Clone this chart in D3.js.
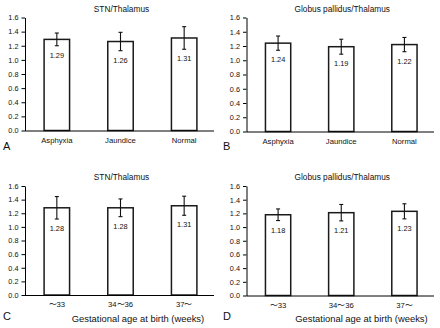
<!DOCTYPE html>
<html>
<head>
<meta charset="utf-8">
<script src="https://cdn.jsdelivr.net/npm/d3@7"></script>
<style>
  body { margin: 0; background: #fff; }
  svg { display: block; font-family: "Liberation Sans", Arial, sans-serif; }
  .axis path, .axis line { stroke: #000; }
  .axis text { fill: #111; font-size: 7.3px; }
  .xaxis text { font-size: 7.7px; }
</style>
</head>
<body>
<svg id="chart" width="440" height="328"></svg>
<script>
const groupCats = ["Asphyxia", "Jaundice", "Normal"];
const ageCats = ["\u301c33", "34\u301c36", "37\u301c"];
const yTicks = [0, 0.2, 0.4, 0.6, 0.8, 1.0, 1.2, 1.4, 1.6];

const stnGroup = [1.29, 1.26, 1.31];
const stnGroupSd = [0.09, 0.13, 0.16];
const gpGroup = [1.24, 1.19, 1.22];
const gpGroupSd = [0.10, 0.105, 0.10];
const stnAge = [1.28, 1.28, 1.31];
const stnAgeSd = [0.165, 0.13, 0.14];
const gpAge = [1.18, 1.21, 1.23];
const gpAgeSd = [0.085, 0.12, 0.11];

const panels = [
  {letter: "A", title: "STN/Thalamus", cats: groupCats, vals: stnGroup, sd: stnGroupSd,
   ox: 0, oy: 0, left: 25, bottom: 130.5, top: 17.5},
  {letter: "B", title: "Globus pallidus/Thalamus", cats: groupCats, vals: gpGroup, sd: gpGroupSd,
   ox: 220, oy: 0, left: 26.5, bottom: 131.5, top: 17.5},
  {letter: "C", title: "STN/Thalamus", cats: ageCats, vals: stnAge, sd: stnAgeSd,
   ox: 0, oy: 164, left: 25, bottom: 131, top: 22, xTitle: "Gestational age at birth (weeks)", xTitleX: 138},
  {letter: "D", title: "Globus pallidus/Thalamus", cats: ageCats, vals: gpAge, sd: gpAgeSd,
   ox: 220, oy: 164, left: 26.5, bottom: 131.5, top: 22, xTitle: "Gestational age at birth (weeks)", xTitleX: 141.5}
];

const svg = d3.select("#chart");

const drawPanel = (p) => {
  const g = svg.append("g").attr("transform", "translate(" + p.ox + "," + p.oy + ")");
  const right = 214;

  const x = d3.scaleBand().domain(p.cats).range([p.left, 216]).paddingInner(0.6).paddingOuter(0.3);
  const y = d3.scaleLinear().domain([0, 1.6]).range([p.bottom, p.top]);
  const data = p.cats.map((c, i) => ({cat: c, v: p.vals[i], sd: p.sd[i]}));

  // title
  g.append("text")
   .attr("x", (p.left + right) / 2 + 2)
   .attr("y", p.top - 6)
   .attr("text-anchor", "middle")
   .attr("fill", "#111")
   .style("font-size", "8.3px")
   .text(p.title);

  // bars
  g.selectAll(".bar")
   .data(data)
   .enter().append("rect")
    .attr("class", "bar")
    .attr("x", d => x(d.cat))
    .attr("y", d => y(d.v))
    .attr("width", x.bandwidth())
    .attr("height", d => y(0) - y(d.v))
    .attr("fill", "#fff")
    .attr("stroke", "#1a1a1a")
    .attr("stroke-width", 1.5);

  // error bars
  const err = g.selectAll(".err").data(data).enter().append("g").attr("class", "err")
               .attr("stroke", "#111").attr("stroke-width", 1.1);
  err.append("line")
     .attr("x1", d => x(d.cat) + x.bandwidth() / 2)
     .attr("x2", d => x(d.cat) + x.bandwidth() / 2)
     .attr("y1", d => y(d.v + d.sd))
     .attr("y2", d => y(d.v - d.sd));
  [1, -1].forEach(s => {
    err.append("line")
       .attr("x1", d => x(d.cat) + x.bandwidth() / 2 - 2)
       .attr("x2", d => x(d.cat) + x.bandwidth() / 2 + 2)
       .attr("y1", d => y(d.v + s * d.sd))
       .attr("y2", d => y(d.v + s * d.sd));
  });

  // value labels below the lower whisker
  g.selectAll(".val")
   .data(data)
   .enter().append("text")
    .attr("class", "val")
    .attr("x", d => x(d.cat) + x.bandwidth() / 2)
    .attr("y", d => y(d.v - d.sd) + 12)
    .attr("text-anchor", "middle")
    .attr("fill", "#111")
    .style("font-size", "7.4px")
    .text(d => d3.format(".2f")(d.v));

  // y axis
  g.append("g")
   .attr("class", "axis")
   .attr("transform", "translate(" + p.left + ",0)")
   .call(d3.axisLeft(y).tickValues(yTicks).tickFormat(d3.format(".1f")).tickSize(3.5).tickSizeOuter(0).tickPadding(3));

  // x axis
  const xa = g.append("g")
   .attr("class", "axis xaxis")
   .attr("transform", "translate(0," + p.bottom + ")")
   .call(d3.axisBottom(x).tickSize(0).tickPadding(7));
  xa.select(".domain").attr("d", "M" + p.left + ",0.5H" + right);

  // panel letter
  g.append("text")
   .attr("x", 3)
   .attr("y", p.xTitle ? 156 : 150)
   .attr("fill", "#111")
   .style("font-size", "11px")
   .text(p.letter);

  if (p.xTitle) {
    g.append("text")
     .attr("x", p.xTitleX)
     .attr("y", 157.5)
     .attr("text-anchor", "middle")
     .attr("fill", "#111")
     .style("font-size", "9.4px")
     .text(p.xTitle);
  }
};

panels.forEach(drawPanel);
</script>
</body>
</html>
